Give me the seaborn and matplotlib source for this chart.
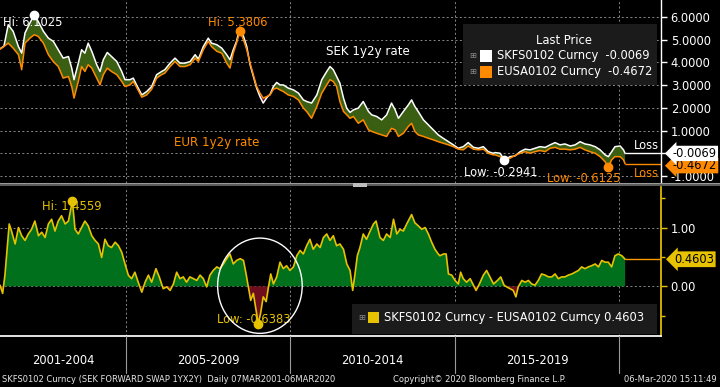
import numpy as np
import pandas as pd
import matplotlib
matplotlib.use("Agg")
import matplotlib.pyplot as plt
import matplotlib.transforms as mtrans
import matplotlib.ticker as mticker
from matplotlib.patches import Ellipse, Rectangle
from matplotlib.lines import Line2D
import seaborn as sns

# ---- data (decimal years) ----
rate_years = [
    2001.18, 2001.30, 2001.43, 2001.58, 2001.74, 2001.84, 2001.94, 2002.09, 2002.22, 2002.34,
    2002.50, 2002.65, 2002.80, 2002.95, 2003.10, 2003.26, 2003.36, 2003.43, 2003.56, 2003.66,
    2003.76, 2003.86, 2003.97, 2004.12, 2004.22, 2004.32, 2004.44, 2004.57, 2004.73, 2004.88,
    2004.98, 2005.13, 2005.23, 2005.33, 2005.49, 2005.64, 2005.79, 2005.94, 2006.09, 2006.19,
    2006.35, 2006.50, 2006.65, 2006.80, 2006.96, 2007.11, 2007.21, 2007.36, 2007.51, 2007.61,
    2007.77, 2007.92, 2008.07, 2008.17, 2008.27, 2008.37, 2008.47, 2008.58, 2008.68, 2008.78,
    2008.88, 2008.98, 2009.08, 2009.18, 2009.29, 2009.39, 2009.49, 2009.59, 2009.69, 2009.79,
    2009.94, 2010.10, 2010.25, 2010.40, 2010.50, 2010.65, 2010.81, 2010.96, 2011.11, 2011.21,
    2011.31, 2011.41, 2011.51, 2011.62, 2011.72, 2011.82, 2011.92, 2012.07, 2012.22, 2012.38,
    2012.48, 2012.63, 2012.78, 2012.93, 2013.08, 2013.19, 2013.29, 2013.44, 2013.59, 2013.69,
    2013.79, 2013.89, 2014.05, 2014.20, 2014.35, 2014.50, 2014.65, 2014.81, 2014.96, 2015.11,
    2015.26, 2015.41, 2015.57, 2015.72, 2015.87, 2016.02, 2016.17, 2016.23, 2016.38, 2016.51,
    2016.68, 2016.83, 2016.99, 2017.14, 2017.29, 2017.44, 2017.59, 2017.75, 2017.90, 2018.05,
    2018.20, 2018.35, 2018.51, 2018.66, 2018.81, 2018.96, 2019.11, 2019.27, 2019.42, 2019.57,
    2019.67, 2019.77, 2019.87, 2020.03, 2020.13, 2020.18,
]
sek_rate = [
    4.60, 4.72, 5.66, 5.37, 4.70, 4.41, 5.30, 5.74, 6.1025, 5.81,
    5.37, 5.07, 4.93, 4.56, 4.19, 4.26, 3.75, 3.24, 3.97, 4.56,
    4.41, 4.85, 4.49, 3.90, 3.60, 4.12, 4.44, 4.26, 4.04, 3.60,
    3.24, 3.24, 3.31, 3.01, 2.57, 2.72, 2.94, 3.46, 3.60, 3.68,
    3.97, 4.19, 3.97, 3.97, 4.04, 4.34, 4.15, 4.70, 5.07, 4.85,
    4.78, 4.63, 4.34, 4.12, 4.56, 4.93, 5.55, 5.15, 4.70, 3.90,
    3.38, 2.87, 2.50, 2.21, 2.45, 2.60, 2.94, 3.12, 3.01, 3.01,
    2.87, 2.79, 2.65, 2.35, 2.28, 2.21, 2.57, 3.24, 3.60, 3.82,
    3.68, 3.38, 3.09, 2.43, 1.98, 1.80, 1.91, 1.99, 2.28, 1.84,
    1.69, 1.62, 1.47, 1.69, 2.21, 1.91, 1.54, 1.84, 2.13, 2.35,
    2.06, 1.84, 1.47, 1.25, 1.03, 0.81, 0.66, 0.51, 0.37, 0.22,
    0.29, 0.47, 0.26, 0.22, 0.29, 0.07, 0.00, 0.03, 0.00, -0.2941,
    -0.15, -0.12, 0.07, 0.18, 0.15, 0.22, 0.29, 0.26, 0.37, 0.47,
    0.37, 0.41, 0.32, 0.37, 0.51, 0.41, 0.37, 0.29, 0.15, -0.07,
    -0.15, 0.07, 0.29, 0.32, 0.15, -0.0069,
]
eur_rate = [
    4.58, 4.70, 4.85, 4.63, 4.34, 3.68, 4.85, 5.07, 5.22, 5.15,
    4.85, 4.34, 4.04, 3.82, 3.31, 3.38, 2.94, 2.43, 3.16, 3.82,
    3.60, 3.90, 3.75, 3.31, 3.01, 3.46, 3.75, 3.60, 3.46, 3.16,
    2.94, 3.01, 3.16, 2.91, 2.47, 2.57, 2.82, 3.31, 3.46, 3.53,
    3.82, 4.04, 3.82, 3.82, 3.90, 4.19, 4.04, 4.56, 4.93, 4.70,
    4.49, 4.41, 3.97, 3.75, 4.41, 4.85, 5.3806, 5.00, 4.56, 3.97,
    3.46, 2.94, 2.65, 2.43, 2.50, 2.57, 2.82, 2.87, 2.79, 2.72,
    2.57, 2.50, 2.35, 1.99, 1.84, 1.54, 2.06, 2.65, 3.01, 3.24,
    3.16, 2.94, 2.28, 1.84, 1.69, 1.54, 1.62, 1.32, 1.47, 1.03,
    0.96, 0.88, 0.81, 0.74, 1.10, 1.03, 0.74, 0.88, 1.18, 1.32,
    0.96, 0.81, 0.74, 0.66, 0.59, 0.51, 0.44, 0.37, 0.29, 0.18,
    0.15, 0.32, 0.18, 0.15, 0.18, 0.00, -0.07, -0.07, -0.15, -0.27,
    -0.22, -0.10, 0.00, 0.07, 0.00, 0.07, 0.12, 0.07, 0.22, 0.26,
    0.18, 0.18, 0.15, 0.18, 0.26, 0.15, 0.07, 0.00, -0.15, -0.37,
    -0.6125, -0.29, -0.15, -0.15, -0.29, -0.4672,
]

spread_years = [
    2001.18, 2001.26, 2001.33, 2001.40, 2001.46, 2001.53, 2001.64, 2001.74, 2001.84, 2001.94,
    2002.04, 2002.14, 2002.24, 2002.35, 2002.45, 2002.55, 2002.65, 2002.75, 2002.85, 2002.95,
    2003.05, 2003.16, 2003.26, 2003.38, 2003.46, 2003.56, 2003.66, 2003.76, 2003.86, 2003.97,
    2004.07, 2004.17, 2004.27, 2004.37, 2004.47, 2004.57, 2004.68, 2004.78, 2004.88, 2004.98,
    2005.08, 2005.18, 2005.28, 2005.38, 2005.49, 2005.59, 2005.69, 2005.79, 2005.92, 2006.02,
    2006.14, 2006.25, 2006.35, 2006.45, 2006.55, 2006.65, 2006.75, 2006.85, 2006.95, 2007.06,
    2007.16, 2007.26, 2007.36, 2007.46, 2007.56, 2007.66, 2007.77, 2007.87, 2007.97, 2008.07,
    2008.17, 2008.27, 2008.37, 2008.48, 2008.58, 2008.66, 2008.73, 2008.80, 2008.88, 2008.96,
    2009.03, 2009.10, 2009.18, 2009.27, 2009.34, 2009.41, 2009.49, 2009.59, 2009.69, 2009.79,
    2009.89, 2009.99, 2010.10, 2010.20, 2010.30, 2010.40, 2010.50, 2010.60, 2010.70, 2010.81,
    2010.91, 2011.01, 2011.11, 2011.21, 2011.31, 2011.41, 2011.51, 2011.62, 2011.72, 2011.82,
    2011.90, 2011.97, 2012.04, 2012.12, 2012.22, 2012.32, 2012.43, 2012.53, 2012.61, 2012.73,
    2012.83, 2012.93, 2013.04, 2013.14, 2013.24, 2013.34, 2013.44, 2013.54, 2013.69, 2013.79,
    2013.89, 2014.00, 2014.10, 2014.20, 2014.30, 2014.40, 2014.50, 2014.55, 2014.66, 2014.74,
    2014.81, 2014.91, 2015.01, 2015.11, 2015.18, 2015.26, 2015.36, 2015.47, 2015.57, 2015.65,
    2015.75, 2015.87, 2015.97, 2016.07, 2016.18, 2016.30, 2016.40, 2016.50, 2016.58, 2016.68,
    2016.78, 2016.86, 2016.93, 2017.04, 2017.14, 2017.24, 2017.34, 2017.44, 2017.54, 2017.64,
    2017.75, 2017.85, 2017.95, 2018.05, 2018.15, 2018.25, 2018.35, 2018.45, 2018.56, 2018.66,
    2018.76, 2018.86, 2018.96, 2019.06, 2019.16, 2019.27, 2019.37, 2019.47, 2019.57, 2019.67,
    2019.77, 2019.87, 2019.97, 2020.08, 2020.18,
]
spread_vals = [
    0.02, -0.12, 0.19, 0.66, 1.06, 0.94, 0.72, 1.00, 0.86, 0.78,
    0.89, 0.97, 1.11, 0.86, 0.92, 0.83, 1.06, 1.14, 0.94, 1.11,
    1.20, 1.06, 1.11, 1.4559, 0.97, 0.89, 1.00, 1.11, 1.03, 0.86,
    0.78, 0.72, 0.49, 0.80, 0.69, 0.66, 0.75, 0.69, 0.58, 0.38,
    0.19, 0.13, 0.24, 0.07, -0.10, 0.07, 0.19, 0.07, 0.30, 0.16,
    -0.04, -0.01, -0.07, 0.04, 0.24, 0.13, 0.16, 0.07, 0.16, 0.13,
    0.10, 0.19, 0.13, -0.01, 0.19, 0.27, 0.33, 0.30, 0.38, 0.47,
    0.55, 0.38, 0.44, 0.47, 0.44, 0.21, -0.01, -0.24, -0.12, -0.40,
    -0.6383, -0.46, -0.18, -0.26, -0.01, 0.21, 0.04, 0.16, 0.41, 0.30,
    0.35, 0.27, 0.33, 0.52, 0.61, 0.55, 0.69, 0.80, 0.63, 0.72,
    0.66, 0.83, 0.89, 0.78, 0.86, 0.69, 0.72, 0.63, 0.38, 0.27,
    -0.07, 0.21, 0.52, 0.66, 0.89, 0.80, 0.94, 1.06, 1.11, 0.83,
    0.78, 0.89, 0.83, 1.14, 0.89, 0.97, 0.94, 1.06, 1.22, 1.08,
    1.03, 0.97, 1.00, 0.89, 0.75, 0.63, 0.55, 0.52, 0.55, 0.55,
    0.21, 0.19, 0.10, 0.04, 0.24, 0.13, 0.07, 0.13, 0.02, -0.07,
    0.04, 0.19, 0.27, 0.16, 0.04, 0.10, 0.16, 0.02, -0.01, -0.04,
    -0.07, -0.18, -0.01, 0.10, 0.07, 0.10, 0.04, 0.02, 0.10, 0.21,
    0.19, 0.16, 0.16, 0.21, 0.13, 0.16, 0.16, 0.19, 0.21, 0.24,
    0.27, 0.33, 0.30, 0.33, 0.35, 0.38, 0.33, 0.44, 0.41, 0.41,
    0.33, 0.52, 0.55, 0.52, 0.4603,
]

sek_name, eur_name = "SKFS0102 Curncy", "EUSA0102 Curncy"
period_labels = ["2001-2004", "2005-2009", "2010-2014", "2015-2019"]
period_edges = [2005, 2010, 2015, 2020]
footer_left = "SKFS0102 Curncy (SEK FORWARD SWAP 1YX2Y)  Daily 07MAR2001-06MAR2020"
footer_mid = "Copyright\u00a9 2020 Bloomberg Finance L.P."
footer_right = "06-Mar-2020 15:11:49"

# ---- style ----
sns.set_theme(style="dark", rc={
    "axes.facecolor": "black", "figure.facecolor": "black",
    "text.color": "white", "axes.edgecolor": "white",
    "xtick.color": "white", "ytick.color": "white",
})
plt.rcParams["font.family"] = ["DejaVu Sans"]

WHITE = "white"
ORANGE = "#ff8a00"
YELLOW = "#e6c200"
GREEN_TOP = "#3a5f12"
GREEN_BOT = "#00701c"
RED = "#6e0e1c"
GRID = "#8a8a8a"
FS = 8.3

rates = pd.DataFrame({"year": rate_years, "SEK": sek_rate, "EUR": eur_rate})
diff = pd.DataFrame({"year": spread_years, "spread": spread_vals})

W, H = 720, 387
fig = plt.figure(figsize=(7.2, 3.87), dpi=100)
ax1 = fig.add_axes([0, 1 - 183 / H, 661 / W, 183 / H])
ax2 = fig.add_axes([0, 1 - 336 / H, 661 / W, 149 / H])
xmin, xmax = 2001.18, 2021.27

# ---- top panel: SEK vs EUR 1y2y ----
ax1.set_xlim(xmin, xmax)
ax1.set_ylim(-1.31, 6.75)
for v in range(-1, 7):
    ax1.axhline(v, color=GRID, lw=0.7, ls=(0, (2, 2.5)), zorder=0)
for e in period_edges:
    ax1.axvline(e, color=GRID, lw=0.7, ls=(0, (2, 2.5)), zorder=0)

ax1.fill_between(rates["year"], rates["EUR"], rates["SEK"], where=rates["SEK"] >= rates["EUR"],
                 interpolate=True, color=GREEN_TOP, lw=0, zorder=1)
ax1.fill_between(rates["year"], rates["EUR"], rates["SEK"], where=rates["SEK"] < rates["EUR"],
                 interpolate=True, color=RED, lw=0, zorder=1)
sns.lineplot(data=rates, x="year", y="SEK", ax=ax1, color=WHITE, lw=1.1, zorder=2)
sns.lineplot(data=rates, x="year", y="EUR", ax=ax1, color=ORANGE, lw=1.1, zorder=3)

last_year = rate_years[-1]
ax1.hlines(sek_rate[-1], last_year, xmax, color=WHITE, lw=1)
ax1.hlines(eur_rate[-1], last_year, xmax, color=ORANGE, lw=1)

i_hi = int(np.argmax(sek_rate)); i_lo = int(np.argmin(sek_rate))
j_hi = int(np.argmax(eur_rate)); j_lo = int(np.argmin(eur_rate))
ax1.plot(rate_years[i_hi], sek_rate[i_hi], "o", color=WHITE, ms=6, zorder=5)
ax1.plot(rate_years[i_lo], sek_rate[i_lo], "o", color=WHITE, ms=6, zorder=5)
ax1.plot(rate_years[j_hi], eur_rate[j_hi], "o", color=ORANGE, ms=6, zorder=5)
ax1.plot(rate_years[j_lo], eur_rate[j_lo], "o", color=ORANGE, ms=6, zorder=5)
ax1.text(2001.27, 5.75, f"Hi: {sek_rate[i_hi]:.4f}", color=WHITE, fontsize=FS, va="center", zorder=6)
ax1.text(2007.50, 5.75, f"Hi: {eur_rate[j_hi]:.4f}", color=ORANGE, fontsize=FS, va="center", zorder=6)
ax1.text(2015.28, -0.83, f"Low: {sek_rate[i_lo]:.4f}", color=WHITE, fontsize=FS, va="center", zorder=6)
ax1.text(2017.81, -1.09, f"Low: {eur_rate[j_lo]:.4f}", color=ORANGE, fontsize=FS, va="center", zorder=6)
ax1.text(2011.09, 4.46, "SEK 1y2y rate", color=WHITE, fontsize=8.6, va="center")
ax1.text(2006.47, 0.47, "EUR 1y2y rate", color=ORANGE, fontsize=8.6, va="center")
ax1.text(2020.45, 0.32, "Loss", color=WHITE, fontsize=FS, va="center")
ax1.text(2020.45, -0.87, "Loss", color=ORANGE, fontsize=FS, va="center")

ax1.yaxis.tick_right()
top_ticks = list(range(-1, 7))
ax1.set_yticks(top_ticks)
# the 0 label sits under the last-price boxes, as on the original
ax1.set_yticklabels(["" if t == 0 else f"{t:.4f}" for t in top_ticks])
ax1.tick_params(axis="y", direction="out", length=4, width=1, color=WHITE,
                labelcolor=WHITE, labelsize=FS, pad=3)
ax1.set_xticks([])
ax1.set_xlabel(""); ax1.set_ylabel("")
for s in ["top", "left", "bottom"]:
    ax1.spines[s].set_visible(False)
ax1.spines["right"].set_color(WHITE)
ax1.spines["right"].set_linewidth(1)

tr1 = mtrans.blended_transform_factory(ax1.transAxes, ax1.transData)
ax1.text(1.018, eur_rate[-1] - 0.08, f"{eur_rate[-1]:.4f}", transform=tr1, color="black", fontsize=FS,
         va="center", ha="left", clip_on=False, zorder=7,
         bbox=dict(boxstyle="larrow,pad=0.1", fc=ORANGE, ec="none"))
ax1.text(1.018, sek_rate[-1], f"{sek_rate[-1]:.4f}", transform=tr1, color="black", fontsize=FS,
         va="center", ha="left", clip_on=False, zorder=8,
         bbox=dict(boxstyle="larrow,pad=0.1", fc=WHITE, ec="none"))

# ---- bottom panel: spread ----
ax2.set_xlim(xmin, xmax)
ax2.set_ylim(-0.845, 1.689)
for v in [0, 1]:
    ax2.axhline(v, color=GRID, lw=0.7, ls=(0, (2, 2.5)), zorder=0)
for e in period_edges:
    ax2.axvline(e, color=GRID, lw=0.7, ls=(0, (2, 2.5)), zorder=0)

ax2.fill_between(diff["year"], 0, diff["spread"], where=diff["spread"] >= 0,
                 interpolate=True, color=GREEN_BOT, lw=0, zorder=1)
ax2.fill_between(diff["year"], 0, diff["spread"], where=diff["spread"] < 0,
                 interpolate=True, color=RED, lw=0, zorder=1)
sns.lineplot(data=diff, x="year", y="spread", ax=ax2, color=YELLOW, lw=1.2, zorder=2)
ax2.hlines(spread_vals[-1], spread_years[-1], xmax, color="#ff9a00", lw=1)

k_hi = int(np.argmax(spread_vals)); k_lo = int(np.argmin(spread_vals))
ax2.plot(spread_years[k_hi], spread_vals[k_hi], "o", color=YELLOW, ms=6, zorder=5)
ax2.plot(spread_years[k_lo], spread_vals[k_lo], "o", color=YELLOW, ms=6, zorder=5)
ax2.text(2002.46, 1.35, f"Hi: {spread_vals[k_hi]:.4f}", color=YELLOW, fontsize=FS, va="center", zorder=6)
ax2.text(2007.78, -0.56, f"Low: {spread_vals[k_lo]:.4f}", color=YELLOW, fontsize=FS, va="center", zorder=6)
ax2.add_patch(Ellipse((2009.08, 0.01), width=2.57, height=1.62, fill=False, ec=WHITE, lw=1, zorder=6))

ax2.yaxis.tick_right()
ax2.set_yticks([0, 1])
ax2.set_yticks([-0.5, 0.5, 1.5], minor=True)
ax2.yaxis.set_major_formatter(mticker.FormatStrFormatter("%.2f"))
ax2.tick_params(axis="y", which="major", direction="out", length=4, width=1, color=YELLOW,
                labelcolor=WHITE, labelsize=FS, pad=3)
ax2.tick_params(axis="y", which="minor", direction="out", length=3, width=1, color=YELLOW)
ax2.set_xticks(range(2002, 2022))
ax2.tick_params(axis="x", direction="out", length=3, width=1, color=WHITE, labelbottom=False)
ax2.set_xlabel(""); ax2.set_ylabel("")
for s in ["top", "left"]:
    ax2.spines[s].set_visible(False)
ax2.spines["right"].set_color(YELLOW)
ax2.spines["bottom"].set_color(WHITE)

tr2 = mtrans.blended_transform_factory(ax2.transAxes, ax2.transData)
ax2.text(1.02, spread_vals[-1], f"{spread_vals[-1]:.4f}", transform=tr2, color="black", fontsize=FS,
         va="center", ha="left", clip_on=False, zorder=8,
         bbox=dict(boxstyle="larrow,pad=0.12", fc=YELLOW, ec="none"))

# ---- x labels below the chart ----
trx = mtrans.blended_transform_factory(ax2.transData, fig.transFigure)
for e in period_edges:
    fig.add_artist(Line2D([e, e], [1 - 336 / H, 1 - 373 / H], transform=trx, color="#9a9a9a", lw=0.8))
bounds = [xmin] + period_edges
for lab, a, b in zip(period_labels, bounds[:-1], bounds[1:]):
    fig.text((a + b) / 2, 1 - 361 / H, lab, transform=trx, color=WHITE, fontsize=8.3,
             ha="center", va="center")

# ---- overlay in pixel coordinates: legends, separator, footer ----
ov = fig.add_axes([0, 0, 1, 1], zorder=10)
ov.set_xlim(0, W); ov.set_ylim(H, 0)
ov.axis("off"); ov.patch.set_alpha(0)

ov.add_patch(Rectangle((0, 182.8), W, 3.4, fc="#5c5c5c", ec="none"))
ov.add_patch(Rectangle((0, 183.4), W, 1.0, fc="#9a9a9a", ec="none"))
ov.add_patch(Rectangle((353, 182.5), 14, 4, fc="#bdbdbd", ec="none"))

ov.add_patch(Rectangle((463, 24), 194, 61, fc="#1b1b1b", ec="none"))
ov.text(564, 40.5, "Last Price", color=WHITE, fontsize=FS, ha="center", va="center")
for yy, col, name, val in [(55.5, WHITE, sek_name, sek_rate[-1]), (72, ORANGE, eur_name, eur_rate[-1])]:
    ov.text(473, yy, "\u229e", color="#8a8a8a", fontsize=6, ha="center", va="center")
    ov.add_patch(Rectangle((480, yy - 6), 12, 12, fc=col, ec="none"))
    ov.text(497, yy, f"{name}  {val:.4f}", color=WHITE, fontsize=FS, ha="left", va="center")

ov.add_patch(Rectangle((352, 304), 305, 30, fc="#1b1b1b", ec="none"))
ov.text(362, 318, "\u229e", color="#8a8a8a", fontsize=6, ha="center", va="center")
ov.add_patch(Rectangle((368, 312), 11, 11, fc=YELLOW, ec="none"))
ov.text(384, 318, f"{sek_name} - {eur_name} {spread_vals[-1]:.4f}", color=WHITE,
        fontsize=FS, ha="left", va="center")

ov.text(2, 380, footer_left, color="#e6e6e6", fontsize=6.0, ha="left", va="center")
ov.text(480, 380, footer_mid, color="#e6e6e6", fontsize=6.0, ha="center", va="center")
ov.text(717, 380, footer_right, color="#e6e6e6", fontsize=6.0, ha="right", va="center")

fig.savefig("out.png", dpi=100, facecolor="black")
